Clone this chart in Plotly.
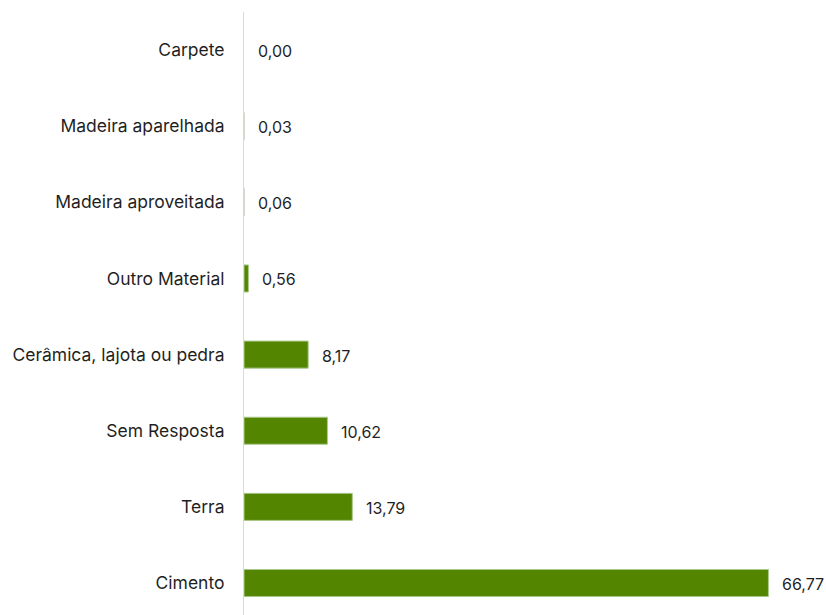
import plotly.graph_objects as go

# Floor material shares (%), listed bottom to top
categories = ["Cimento", "Terra", "Sem Resposta", "Cerâmica, lajota ou pedra",
              "Outro Material", "Madeira aproveitada", "Madeira aparelhada", "Carpete"]
values = [66.77, 13.79, 10.62, 8.17, 0.56, 0.06, 0.03, 0.00]
value_labels = [f"{v:.2f}".replace(".", ",") for v in values]

FONT = "Inter, Noto Sans, sans-serif"
BAR_GREEN = "#538500"

# thin light outline around each bar; nothing at all for an empty bar
outline_widths = [1 if v > 0 else 0 for v in values]
outline_colors = ["#a9c98a" if v >= 0.5 else "#d6d9d0" for v in values]

fig = go.Figure(
    go.Bar(
        x=values,
        y=categories,
        orientation="h",
        width=0.355,
        marker=dict(color=BAR_GREEN,
                    line=dict(color=outline_colors, width=outline_widths)),
        hoverinfo="x+y",
    )
)

# value labels to the right of each bar
for cat, v, lab in zip(categories, values, value_labels):
    fig.add_annotation(
        x=v, y=cat, text=lab, showarrow=False,
        xanchor="left", yanchor="middle", xshift=12, yshift=-1,
        font=dict(family=FONT, size=16, color="#1f1f1f"),
    )

fig.update_layout(
    width=826, height=615,
    margin=dict(l=244, r=0, t=12, b=0),
    paper_bgcolor="white", plot_bgcolor="white",
    showlegend=False,
    bargap=0.6,
)
fig.update_xaxes(
    range=[0, 74.1], visible=False, showgrid=False, zeroline=False,
)
fig.update_yaxes(
    categoryorder="array", categoryarray=categories,
    range=[-0.42, 7.5],
    showgrid=False, zeroline=False,
    showline=True, linecolor="#d9d9d9", linewidth=1,
    ticks="", ticklabelstandoff=15,
    tickfont=dict(family=FONT, size=17.5, color="#1f1f1f"),
)

fig.write_html("out.html")
